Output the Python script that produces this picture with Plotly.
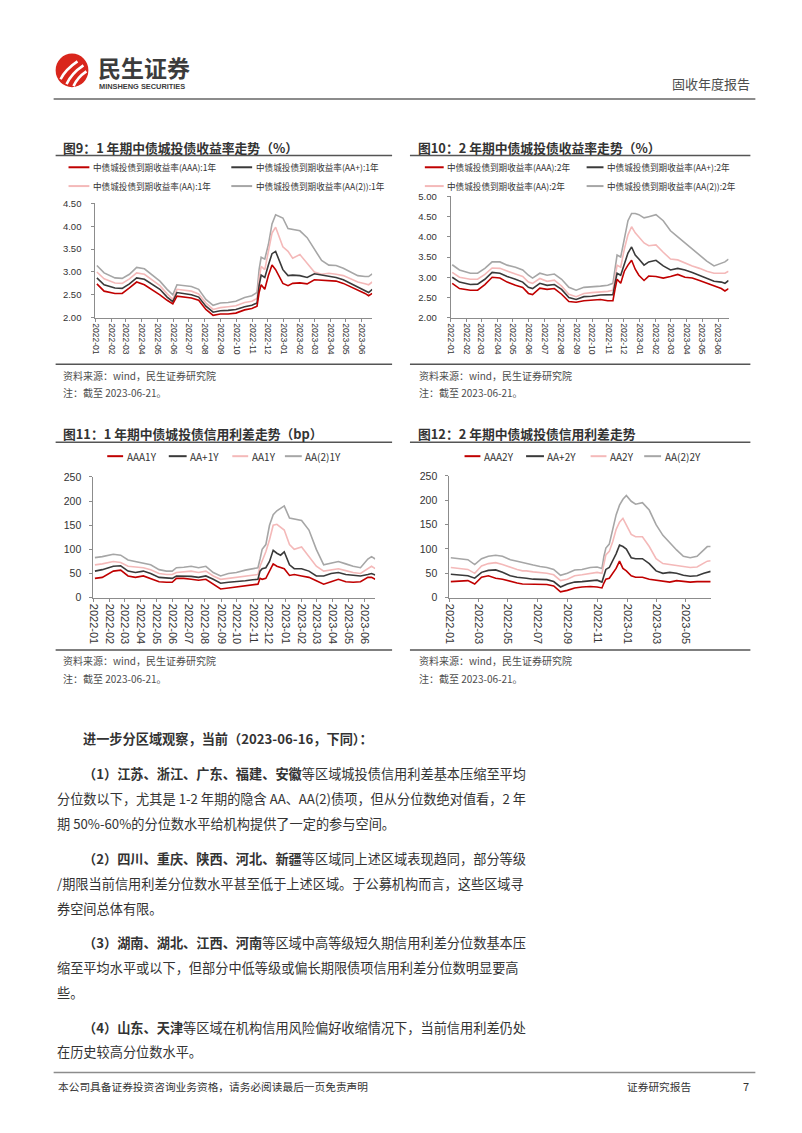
import plotly.graph_objects as go

W, H = 802, 1133
CJK = "Noto Sans CJK SC"
LAT = "Liberation Sans"

# ---------------- data ----------------
dates = ["2022-01-04","2022-01-18","2022-02-08","2022-02-22","2022-03-08","2022-03-22",
         "2022-04-06","2022-04-20","2022-05-06","2022-05-20","2022-05-31","2022-06-08",
         "2022-06-22","2022-07-06","2022-07-20","2022-08-03","2022-08-17","2022-08-31",
         "2022-09-15","2022-09-30","2022-10-17","2022-10-31","2022-11-10","2022-11-14",
         "2022-11-18","2022-11-25","2022-12-02","2022-12-09","2022-12-16","2022-12-23",
         "2022-12-30","2023-01-09","2023-01-18","2023-02-01","2023-02-15","2023-03-01",
         "2023-03-15","2023-03-29","2023-04-12","2023-04-26","2023-05-10","2023-05-24",
         "2023-06-07","2023-06-14","2023-06-21"]

# Fig 9: 1Y yields (%)
y1_aa2 = [3.14,2.98,2.87,2.86,2.95,3.10,3.07,2.95,2.80,2.62,2.50,2.72,2.70,2.68,2.62,2.40,2.27,2.32,2.33,2.36,
          2.44,2.48,2.55,3.05,3.32,3.28,3.60,4.05,4.25,4.22,4.18,3.95,3.93,3.90,3.75,3.50,3.25,3.15,3.14,3.08,
          3.00,2.92,2.90,2.90,2.96]
y1_aa = [3.00,2.85,2.76,2.75,2.85,2.98,2.95,2.83,2.70,2.52,2.40,2.62,2.60,2.58,2.52,2.32,2.18,2.22,2.24,2.26,
         2.33,2.36,2.42,2.85,3.12,3.05,3.45,3.85,3.98,3.75,3.55,3.45,3.30,3.38,3.20,3.00,2.95,2.97,2.95,2.92,
         2.85,2.78,2.74,2.72,2.78]
y1_aap = [2.87,2.72,2.65,2.64,2.74,2.87,2.84,2.73,2.62,2.45,2.35,2.55,2.52,2.50,2.45,2.25,2.12,2.15,2.16,2.18,
          2.24,2.27,2.32,2.70,2.93,2.88,3.15,3.40,3.45,3.25,3.05,2.92,2.93,2.92,2.88,2.96,2.93,2.90,2.88,2.83,
          2.75,2.68,2.60,2.55,2.62]
y1_aaa = [2.74,2.58,2.53,2.53,2.65,2.78,2.72,2.62,2.50,2.38,2.30,2.47,2.45,2.43,2.38,2.18,2.05,2.08,2.08,2.10,
          2.17,2.20,2.25,2.55,2.72,2.62,2.92,3.15,3.05,2.90,2.75,2.70,2.75,2.76,2.74,2.83,2.82,2.80,2.80,2.75,
          2.68,2.60,2.53,2.48,2.53]

# Fig 10: 2Y yields (%)
y2_aa2 = [3.31,3.18,3.10,3.10,3.22,3.38,3.38,3.30,3.25,3.18,3.05,2.98,3.10,3.05,3.08,2.95,2.75,2.68,2.75,2.76,
          2.78,2.80,2.85,3.20,3.55,3.50,3.95,4.40,4.58,4.58,4.55,4.47,4.50,4.55,4.40,4.15,4.00,3.85,3.70,3.55,
          3.40,3.28,3.35,3.38,3.45]
y2_aa = [3.12,3.00,2.95,2.95,3.07,3.23,3.22,3.15,3.08,3.02,2.88,2.85,2.97,2.90,2.93,2.78,2.58,2.52,2.60,2.62,
         2.63,2.65,2.68,3.00,3.30,3.25,3.70,4.05,4.25,4.10,4.00,3.85,3.78,3.80,3.62,3.45,3.43,3.35,3.28,3.22,
         3.15,3.10,3.10,3.10,3.15]
y2_aap = [3.00,2.88,2.82,2.83,2.95,3.12,3.10,3.02,2.95,2.88,2.75,2.72,2.85,2.80,2.82,2.70,2.50,2.45,2.52,2.53,
          2.56,2.57,2.57,2.85,3.10,3.05,3.35,3.60,3.75,3.55,3.45,3.30,3.38,3.42,3.28,3.18,3.22,3.18,3.12,3.05,
          2.98,2.90,2.88,2.85,2.92]
y2_aaa = [2.85,2.72,2.68,2.68,2.82,3.00,2.98,2.88,2.80,2.75,2.60,2.57,2.73,2.70,2.72,2.58,2.40,2.38,2.42,2.43,
          2.45,2.42,2.42,2.70,2.95,2.85,3.15,3.30,3.42,3.20,3.05,2.92,3.03,3.02,2.98,3.02,3.07,3.00,2.98,2.92,
          2.85,2.78,2.72,2.66,2.72]

# Fig 11: 1Y credit spreads (bp)
s1_aa2 = [83,85,90,88,78,75,72,68,58,55,55,62,63,65,62,65,52,45,50,52,
          57,60,62,80,100,110,150,172,180,185,190,165,163,160,140,100,68,72,75,70,
          65,62,80,85,80]
s1_aa = [68,70,75,73,65,63,62,58,50,48,48,52,53,55,52,55,45,38,40,42,
         45,47,48,65,75,95,120,150,152,145,140,110,100,105,85,65,55,57,60,56,
         52,50,60,65,60]
s1_aap = [55,58,65,66,55,52,55,50,42,40,40,45,45,44,42,45,38,30,32,33,
          35,37,38,55,60,62,75,98,92,88,95,68,60,60,55,45,45,50,52,48,
          46,45,48,50,47]
s1_aaa = [40,42,55,57,45,42,45,40,33,32,32,40,40,38,36,38,28,18,20,22,
          24,26,28,40,38,40,55,70,65,62,60,46,48,45,42,35,28,33,38,33,
          32,33,42,42,38]

# Fig 12: 2Y credit spreads (bp)
s2_aa2 = [82,80,78,68,80,85,87,85,78,75,72,70,67,64,62,58,46,50,57,58,
          62,63,60,85,102,110,140,170,190,202,210,198,192,195,180,150,128,112,98,85,
          82,85,98,105,105]
s2_aa = [62,60,58,50,65,70,72,68,62,58,55,55,53,52,50,47,35,38,45,47,
         50,52,50,70,88,95,115,140,155,163,150,130,125,125,105,80,70,68,65,63,
         62,63,70,75,76]
s2_aap = [48,47,45,40,52,56,57,52,45,42,40,40,38,38,37,33,22,28,32,33,
          35,36,32,48,58,62,75,90,108,105,100,82,80,80,70,55,50,52,50,46,
          44,45,50,52,54]
s2_aaa = [33,34,35,28,42,45,40,38,33,30,28,28,28,28,27,24,12,15,20,22,
          23,22,20,30,38,40,50,60,75,60,55,45,42,42,38,36,35,32,35,33,
          32,33,32,33,33]

leg9 = ["中债城投债到期收益率(AAA):1年", "中债城投债到期收益率(AA+):1年",
        "中债城投债到期收益率(AA):1年", "中债城投债到期收益率(AA(2)):1年"]
leg10 = ["中债城投债到期收益率(AAA):2年", "中债城投债到期收益率(AA+):2年",
         "中债城投债到期收益率(AA):2年", "中债城投债到期收益率(AA(2)):2年"]
leg11 = ["AAA1Y", "AA+1Y", "AA1Y", "AA(2)1Y"]
leg12 = ["AAA2Y", "AA+2Y", "AA2Y", "AA(2)2Y"]

RED, BLACK, PINK, GRAY = "#C00000", "#3A3A3A", "#F4B9B9", "#A6A6A6"
COLORS = [RED, BLACK, PINK, GRAY]

def PX(x): return x / W
def PY(y): return 1 - y / H

fig = go.Figure()

def add_series(xa, ya, series, names):
    # draw order: AA(2), AA, AA+, AAA (red on top)
    for idx in [3, 2, 1, 0]:
        fig.add_trace(go.Scatter(x=dates, y=series[idx], mode="lines", name=names[idx],
                                 line=dict(color=COLORS[idx], width=1.6),
                                 xaxis=xa, yaxis=ya, showlegend=False, hoverinfo="skip"))

add_series("x", "y", [y1_aaa, y1_aap, y1_aa, y1_aa2], leg9)
add_series("x2", "y2", [y2_aaa, y2_aap, y2_aa, y2_aa2], leg10)
add_series("x3", "y3", [s1_aaa, s1_aap, s1_aa, s1_aa2], leg11)
add_series("x4", "y4", [s2_aaa, s2_aap, s2_aa, s2_aa2], leg12)

AX = "#8C8C8C"
def xax(x0, x1, dtick, fsize, anchor):
    return dict(domain=[PX(x0), PX(x1)], anchor=anchor, type="date",
                range=["2022-01-01", "2023-06-21"], dtick=dtick, tick0="2022-01-01",
                tickformat="%Y-%m", tickangle=90, tickfont=dict(family=LAT, size=fsize, color="#333"),
                showline=True, linecolor=AX, linewidth=1, ticks="outside", ticklen=3, tickcolor=AX,
                showgrid=False, zeroline=False, fixedrange=True)

def yax(top, bottom, rng, dtick, fmt, fsize, anchor, standoff):
    return dict(domain=[PY(bottom), PY(top)], anchor=anchor, range=rng, dtick=dtick, tickformat=fmt,
                tickfont=dict(family=LAT, size=fsize, color="#333"),
                showline=True, linecolor=AX, linewidth=1, ticks="outside", ticklen=3, tickcolor=AX,
                ticklabelstandoff=standoff, showgrid=False, zeroline=False, fixedrange=True)

fig.update_layout(
    width=W, height=H, margin=dict(l=0, r=0, t=0, b=0),
    paper_bgcolor="white", plot_bgcolor="white",
    font=dict(family=CJK, color="#333"),
    showlegend=False,
    xaxis=xax(90, 369, "M1", 8.5, "y"),
    yaxis=yax(199.5, 315, [2, 4.5], 0.5, ".2f", 9.5, "x", 8),
    xaxis2=xax(448, 728, "M1", 8.5, "y2"),
    yaxis2=yax(192.5, 315, [2, 5], 0.5, ".2f", 9.5, "x2", 8),
    xaxis3=xax(88, 372, "M1", 11, "y3"),
    yaxis3=yax(476, 598, [0, 250], 50, "d", 10.5, "x3", 6),
    xaxis4=xax(446.7, 710, "M2", 11, "y4"),
    yaxis4=yax(475, 598, [0, 250], 50, "d", 10.5, "x4", 6),
)

shapes = []
annots = []

def hline(x0, x1, y, color, width):
    shapes.append(dict(type="line", xref="paper", yref="paper", x0=PX(x0), x1=PX(x1),
                       y0=PY(y), y1=PY(y), line=dict(color=color, width=width)))

def text(x, y, s, size, color="#333", anchor="left", family=CJK):
    annots.append(dict(x=PX(x), y=PY(y), xref="paper", yref="paper", text=s, showarrow=False,
                       xanchor=anchor, yanchor="middle", font=dict(size=size, color=color, family=family)))

def legend_item(x0, x1, y, color, label, size):
    hline(x0, x1, y, color, 2)
    text(x1 + 1.5, y, label, size)

# ---------------- header ----------------
shapes.append(dict(type="circle", xref="paper", yref="paper", x0=PX(50), x1=PX(83),
                   y0=PY(82), y1=PY(48), fillcolor="#D9261C", line=dict(width=0)))
for (ax0, ay0, cx, cy, ax1, ay1) in [(55, 74, 60, 64, 72, 56), (61, 79, 66, 68, 78, 60), (68, 81, 72, 72, 81, 66)]:
    path = f"M {PX(ax0)},{PY(ay0)} Q {PX(cx)},{PY(cy)} {PX(ax1)},{PY(ay1)}"
    shapes.append(dict(type="path", xref="paper", yref="paper", path=path,
                       line=dict(color="white", width=2.6)))
text(91, 62, "<b>民生证券</b>", 23, "#3C3C3C")
text(92, 81, "<b>MINSHENG SECURITIES</b>", 7.4, "#3C3C3C", family="Liberation Sans")
text(752, 78, "固收年度报告", 13, "#4D4D4D", anchor="right")
hline(48, 755, 94, "#8C8C8C", 2)

# ---------------- chart titles ----------------
text(55, 143, "<b>图9：1 年期中债城投债收益率走势（%）</b>", 12.8, "#333")
text(413, 143, "<b>图10：2 年期中债城投债收益率走势（%）</b>", 12.8, "#333")
text(55, 432, "<b>图11：1 年期中债城投债信用利差走势（bp）</b>", 12.8, "#333")
text(413, 432, "<b>图12：2 年期中债城投债信用利差走势</b>", 12.8, "#333")
hline(50, 389, 151, "#555", 1.5)
hline(407, 750, 151, "#555", 1.5)
hline(50, 389, 441, "#555", 1.5)
hline(407, 750, 441, "#555", 1.5)

# ---------------- legends ----------------
L9 = 8.6
legend_item(63, 84, 163, RED, leg9[0], L9)
legend_item(227, 248, 163, BLACK, leg9[1], L9)
legend_item(63, 84, 182, PINK, leg9[2], L9)
legend_item(227, 248, 182, GRAY, leg9[3], L9)
legend_item(422, 441, 163, RED, leg10[0], L9)
legend_item(585, 602, 163, BLACK, leg10[1], L9)
legend_item(422, 441, 182, PINK, leg10[2], L9)
legend_item(585, 602, 182, GRAY, leg10[3], L9)
L11 = 10
legend_item(102, 118, 455, RED, leg11[0], L11)
legend_item(164, 182, 455, BLACK, leg11[1], L11)
legend_item(228, 244, 455, PINK, leg11[2], L11)
legend_item(281, 298, 455, GRAY, leg11[3], L11)
legend_item(462, 478, 455, RED, leg12[0], L11)
legend_item(524, 542, 455, BLACK, leg12[1], L11)
legend_item(589, 605, 455, PINK, leg12[2], L11)
legend_item(643, 660, 455, GRAY, leg12[3], L11)

# ---------------- sources ----------------
hline(50, 389, 362, "#555", 1.5)
hline(407, 750, 362, "#555", 1.5)
hline(50, 389, 651, "#555", 1.5)
hline(407, 750, 651, "#555", 1.5)
for (sx, sy) in [(55, 373), (414, 373), (55, 662), (414, 662)]:
    text(sx, sy, "资料来源：wind，民生证券研究院", 10, "#4D4D4D")
    text(sx, sy + 18, "注：截至 2023-06-21。", 10, "#4D4D4D")

# ---------------- body text ----------------
BF = 13.2
BC = "#333"
body = [
    (76, 740, "<b>进一步分区域观察，当前（2023-06-16，下同）：</b>"),
    (76, 776, "<b>（1）江苏、浙江、广东、福建、安徽</b>等区域城投债信用利差基本压缩至平均"),
    (49, 801, "分位数以下，尤其是 1-2 年期的隐含 AA、AA(2)债项，但从分位数绝对值看，2 年"),
    (49, 826, "期 50%-60%的分位数水平给机构提供了一定的参与空间。"),
    (76, 862, "<b>（2）四川、重庆、陕西、河北、新疆</b>等区域同上述区域表现趋同，部分等级"),
    (49, 887, "/期限当前信用利差分位数水平甚至低于上述区域。于公募机构而言，这些区域寻"),
    (49, 912, "券空间总体有限。"),
    (76, 947, "<b>（3）湖南、湖北、江西、河南</b>等区域中高等级短久期信用利差分位数基本压"),
    (49, 972, "缩至平均水平或以下，但部分中低等级或偏长期限债项信用利差分位数明显要高"),
    (49, 997, "些。"),
    (76, 1032, "<b>（4）山东、天津</b>等区域在机构信用风险偏好收缩情况下，当前信用利差仍处"),
    (49, 1057, "在历史较高分位数水平。"),
]
for (bx, by, s) in body:
    text(bx, by, s, BF, BC)

# ---------------- footer ----------------
hline(48, 755, 1078, "#8C8C8C", 1.5)
text(50, 1092, "本公司具备证券投资咨询业务资格，请务必阅读最后一页免责声明", 10.7, "#333")
text(624, 1092, "证券研究报告", 10.7, "#333")
text(741, 1092, "7", 11, "#333")

fig.update_layout(shapes=shapes, annotations=annots)
fig.write_html("out.html")
